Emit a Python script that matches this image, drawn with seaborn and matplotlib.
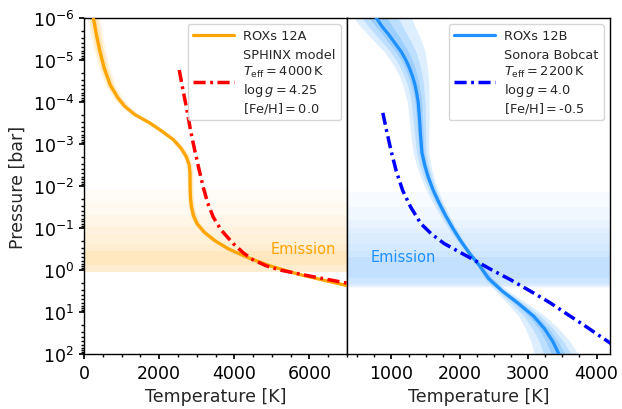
import numpy as np
import pandas as pd
import matplotlib
matplotlib.use("Agg")
import matplotlib.pyplot as plt
from matplotlib.ticker import MultipleLocator
import seaborn as sns

# ---------------- data ----------------
# ROXs 12A retrieved P-T profile (log10 P [bar], T [K])
a_logp = [-6.0, -5.6, -5.2, -4.8, -4.4, -4.1, -3.9, -3.7, -3.5, -3.3, -3.1, -2.9,
          -2.7, -2.5, -2.3, -2.1, -1.9, -1.7, -1.5, -1.3, -1.1, -0.9, -0.7, -0.5,
          -0.3, -0.1, 0.1, 0.3, 0.37, 0.45]
a_temp = [250, 330, 425, 540, 700, 900, 1080, 1350, 1750, 2080, 2380, 2580,
          2720, 2800, 2820, 2822, 2825, 2835, 2860, 2910, 3010, 3200, 3480, 3850,
          4350, 4950, 5700, 6650, 7000, 7400]
# half-widths of the three envelopes [K]
a_w3 = [170, 160, 150, 140, 130, 120, 115, 110, 105, 100, 95, 90,
        85, 85, 85, 85, 85, 85, 85, 85, 90, 95, 100, 110,
        120, 130, 140, 150, 150, 150]
a_w2 = [110, 105, 100, 95, 85, 80, 75, 70, 70, 65, 60, 60,
        55, 55, 55, 55, 55, 55, 55, 55, 60, 60, 65, 70,
        80, 85, 90, 100, 100, 100]
a_w1 = [55, 50, 50, 45, 45, 40, 40, 35, 35, 35, 30, 30,
        30, 30, 30, 30, 30, 30, 30, 30, 30, 30, 35, 35,
        40, 45, 45, 50, 50, 50]

# SPHINX model (Teff=4000 K, log g=4.25, [Fe/H]=0.0)
sph_logp = [-4.76, -4.3, -3.85, -3.3, -2.83, -2.4, -1.97, -1.6, -1.26, -0.95,
            -0.63, -0.4, -0.24, -0.1, 0.0, 0.16, 0.31, 0.4]
sph_temp = [2535, 2630, 2731, 2840, 2952, 3060, 3173, 3290, 3439, 3650,
            3971, 4250, 4503, 4850, 5213, 6098, 6986, 7400]

# ROXs 12B retrieved P-T profile
b_logp = [-6.0, -5.8, -5.6, -5.4, -5.2, -5.0, -4.8, -4.6, -4.4, -4.2, -4.0, -3.6,
          -3.2, -2.8, -2.5, -2.2, -1.9, -1.6, -1.3, -1.0, -0.7, -0.4, -0.1, 0.2,
          0.5, 0.8, 1.1, 1.4, 1.7, 2.0]
b_temp = [777, 860, 960, 1050, 1140, 1210, 1265, 1310, 1345, 1370, 1390, 1410,
          1425, 1445, 1485, 1540, 1610, 1695, 1790, 1895, 2010, 2140, 2290, 2420,
          2620, 2860, 3080, 3240, 3360, 3450]
# envelope widths below (lo) and above (hi) the median [K]
b_lo3 = [330, 320, 300, 280, 250, 230, 210, 190, 180, 170, 160, 150,
         140, 130, 120, 110, 100, 90, 80, 70, 55, 40, 40, 60,
         100, 160, 220, 280, 320, 360]
b_hi3 = [520, 480, 440, 400, 350, 300, 260, 230, 200, 180, 160, 140,
         120, 100, 90, 80, 70, 60, 55, 50, 45, 40, 45, 60,
         90, 130, 170, 210, 250, 280]
b_lo2 = [210, 200, 190, 175, 160, 145, 130, 120, 110, 105, 100, 95,
         85, 80, 75, 70, 60, 55, 50, 45, 35, 25, 25, 40,
         65, 100, 140, 175, 200, 225]
b_hi2 = [320, 300, 270, 245, 215, 185, 160, 140, 125, 110, 100, 85,
         75, 60, 55, 50, 45, 40, 35, 30, 28, 25, 28, 40,
         55, 80, 105, 130, 155, 175]
b_lo1 = [100, 95, 90, 85, 80, 70, 65, 60, 55, 50, 50, 45,
         40, 40, 35, 35, 30, 28, 25, 22, 18, 12, 12, 20,
         32, 50, 70, 85, 100, 110]
b_hi1 = [160, 150, 135, 120, 105, 90, 80, 70, 60, 55, 50, 42,
         38, 30, 28, 25, 22, 20, 18, 15, 14, 12, 14, 20,
         28, 40, 52, 65, 78, 88]

# Sonora Bobcat model (Teff=2200 K, log g=4.0, [Fe/H]=-0.5)
sb_logp = [-3.74, -3.3, -2.83, -2.35, -1.89, -1.5, -1.1, -0.85, -0.63, -0.45,
           -0.24, 0.0, 0.23, 0.5, 0.78, 1.05, 1.3, 1.55, 1.73, 1.8]
sb_temp = [873, 930, 995, 1070, 1164, 1280, 1431, 1590, 1770, 1970,
           2206, 2470, 2740, 3030, 3321, 3570, 3805, 4030, 4193, 4260]

# emission-contribution layers (log10 P ranges)
a_emis_lo = [-1.9, -1.6, -1.3, -1.05, -0.85, -0.63, -0.46]
a_emis_hi = [0.05, 0.05, 0.05, 0.05, 0.05, 0.05, -0.12]
b_emis_lo = [-1.85, -1.5, -1.2, -1.0, -0.87, -0.63, -0.45, -0.32]
b_emis_hi = [0.42, 0.40, 0.40, 0.38, 0.36, 0.36, 0.30, 0.19]

label_a = "ROXs 12A"
label_b = "ROXs 12B"
label_sph = "SPHINX model\n$T_\\mathrm{eff}=4000\\,\\mathrm{K}$\n$\\log g=4.25$\n$[\\mathrm{Fe/H}]=0.0$"
label_sb = "Sonora Bobcat\n$T_\\mathrm{eff}=2200\\,\\mathrm{K}$\n$\\log g=4.0$\n$[\\mathrm{Fe/H}]=$-0.5"

# ---------------- figure ----------------
sns.set_theme(style="ticks")
plt.rcParams.update({
    "font.family": ["DejaVu Sans"],
    "xtick.labelsize": 12.5, "ytick.labelsize": 12.5,
    "axes.labelsize": 12.5, "axes.edgecolor": "black",
    "xtick.color": "black", "ytick.color": "black",
    "axes.linewidth": 1.0,
    "xtick.direction": "out", "ytick.direction": "out",
    "xtick.major.size": 3.5, "ytick.major.size": 3.5,
    "xtick.minor.size": 2.0, "ytick.minor.size": 2.0,
})

fig, (ax1, ax2) = plt.subplots(1, 2, figsize=(6.22, 4.10), dpi=100)
fig.subplots_adjust(left=0.135, right=0.981, top=0.954, bottom=0.134, wspace=0.0)

ORANGE = "#FFA500"
DBLUE = "#1E90FF"

def P(lp):
    return 10.0 ** np.asarray(lp, dtype=float)

# ---- left panel ----
for i, (lo, hi) in enumerate(zip(a_emis_lo, a_emis_hi)):
    al = 0.08 if i == len(a_emis_lo) - 1 else 0.03
    ax1.axhspan(10 ** lo, 10 ** hi, color=ORANGE, alpha=al, lw=0, zorder=0)

ta = np.asarray(a_temp, float)
pa = P(a_logp)
for w, al in [(a_w3, 0.12), (a_w2, 0.15), (a_w1, 0.2)]:
    ax1.fill_betweenx(pa, ta - np.asarray(w), ta + np.asarray(w),
                      color=ORANGE, alpha=al, lw=0, zorder=1)

dfa = pd.DataFrame({"T": a_temp, "P": pa})
sns.lineplot(data=dfa, x="T", y="P", sort=False, estimator=None, ax=ax1,
             color=ORANGE, lw=2.3, label=label_a, zorder=3)
dfs = pd.DataFrame({"T": sph_temp, "P": P(sph_logp)})
sns.lineplot(data=dfs, x="T", y="P", sort=False, estimator=None, ax=ax1,
             color="red", lw=2.5, linestyle=(0, (3.5, 1.3, 0.8, 1.3)),
             label=label_sph, zorder=4)
ax1.text(4960, 10 ** -0.5, "Emission", color=ORANGE, fontsize=10.5,
         va="center", ha="left")

# ---- right panel ----
for i, (lo, hi) in enumerate(zip(b_emis_lo, b_emis_hi)):
    al = 0.06 if i == len(b_emis_lo) - 1 else 0.03
    ax2.axhspan(10 ** lo, 10 ** hi, color=DBLUE, alpha=al, lw=0, zorder=0)

tb = np.asarray(b_temp, float)
pb = P(b_logp)
for lo, hi, al in [(b_lo3, b_hi3, 0.15), (b_lo2, b_hi2, 0.17), (b_lo1, b_hi1, 0.2)]:
    ax2.fill_betweenx(pb, tb - np.asarray(lo), tb + np.asarray(hi),
                      color=DBLUE, alpha=al, lw=0, zorder=1)

dfb = pd.DataFrame({"T": b_temp, "P": pb})
sns.lineplot(data=dfb, x="T", y="P", sort=False, estimator=None, ax=ax2,
             color=DBLUE, lw=2.3, label=label_b, zorder=3)
dfsb = pd.DataFrame({"T": sb_temp, "P": P(sb_logp)})
sns.lineplot(data=dfsb, x="T", y="P", sort=False, estimator=None, ax=ax2,
             color="blue", lw=2.5, linestyle=(0, (3.5, 1.3, 0.8, 1.3)),
             label=label_sb, zorder=4)
ax2.text(700, 10 ** -0.33, "Emission", color=DBLUE, fontsize=10.5,
         va="center", ha="left")

# ---- axes formatting ----
for ax in (ax1, ax2):
    ax.set_yscale("log")
    ax.set_ylim(1e2, 1e-6)
    ax.set_xlabel("Temperature [K]")
    for s in ax.spines.values():
        s.set_visible(True)
        s.set_color("black")
    ax.legend(loc="upper right", fontsize=9.3, handlelength=3.2,
              labelspacing=0.45, handletextpad=0.7, borderpad=0.4,
              framealpha=0.8, fancybox=True, edgecolor="#cccccc")

ax1.set_xlim(0, 7000)
ax1.xaxis.set_major_locator(MultipleLocator(2000))
ax1.xaxis.set_minor_locator(MultipleLocator(500))
ax1.set_ylabel("Pressure [bar]")

ax2.set_xlim(350, 4200)
ax2.xaxis.set_major_locator(MultipleLocator(1000))
ax2.xaxis.set_minor_locator(MultipleLocator(250))
ax2.set_ylabel("")
ax2.tick_params(axis="y", which="both", left=False, labelleft=False)

fig.savefig("out.png", dpi=100)
